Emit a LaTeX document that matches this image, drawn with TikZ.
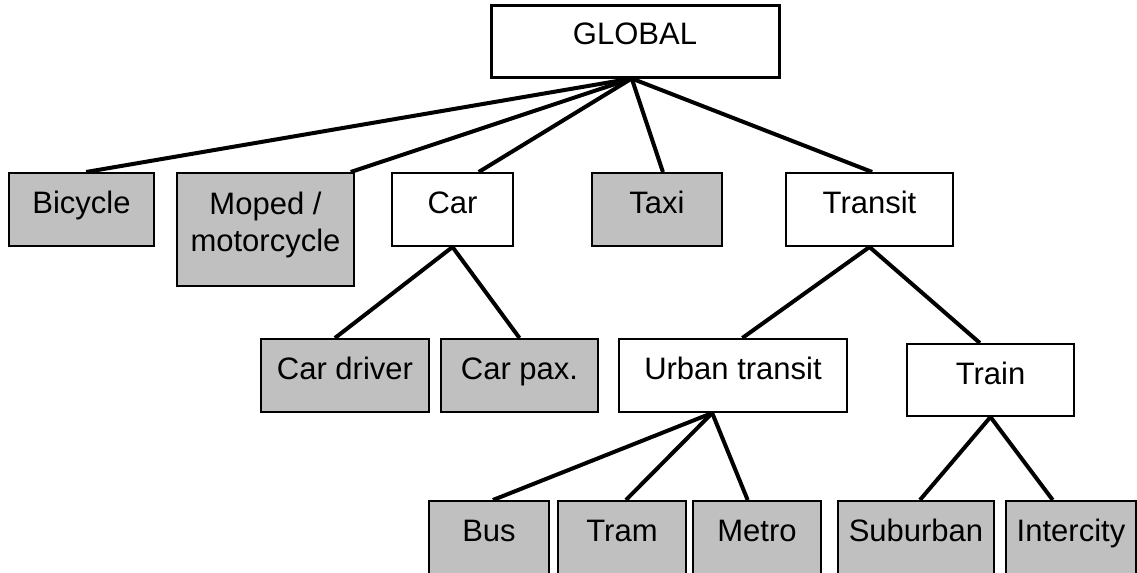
\documentclass[tikz,border=0pt]{standalone}
\usepackage{fontspec}
\setmainfont{Liberation Sans}
\usepackage{xcolor}
\usepackage{tikz}
\usetikzlibrary{positioning}
\definecolor{leafgray}{HTML}{C0C0C0}

\begin{document}
\begin{tikzpicture}[x=0.5pt, y=-0.5pt,
	box/.style={rectangle, draw, line width=1pt, inner sep=0, minimum height=36.5pt,
		font=\fontsize{15.5}{18.5}\selectfont, align=center},
	lbl/.style={text height=11pt, text depth=7pt},
	leaf/.style={box, fill=leafgray},
	conn/.style={draw, line width=2pt}]
\useasboundingbox (0,0) rectangle (1137,573);
% top level
\node[box, lbl, line width=1.5pt, minimum width=144pt, minimum height=36pt] at(635,41) (global) {GLOBAL};
\node[leaf, lbl, minimum width=72.5pt] at(81.5,209.5) (bicycle) {Bicycle};
\node[leaf, text depth=8pt, minimum width=88.5pt, minimum height=56.5pt] at(265.5,229.5) (moped) {Moped /\\motorcycle};
\node[box, lbl, minimum width=60.5pt] at(452.5,209.5) (car) {Car};
\node[leaf, lbl, minimum width=65pt] at(657,209.5) (taxi) {Taxi};
\node[box, lbl, minimum width=83.5pt] at(869.5,209.5) (transit) {Transit};
% second level
\node[leaf, lbl, minimum width=84pt] at(345,375.5) (cardriver) {Car driver};
\node[leaf, lbl, minimum width=78.5pt] at(519.5,375.5) (carpax) {Car pax.};
\node[box, lbl, minimum width=114pt] at(733,375.5) (urban) {Urban transit};
\node[box, lbl, minimum width=83.5pt, minimum height=36pt] at(990.5,380) (train) {Train};
% third level
\foreach \x/\w/\n/\t in {489/60/bus/Bus, 622/64/tram/Tram, 757/64/metro/Metro,
	916/78/suburban/Suburban, 1071/65/intercity/Intercity} {
	\node[leaf, lbl, minimum width=\w pt] at(\x,537.5) (\n) {\t};
};
\path[conn]
	(global.265) edge (bicycle.83)
	(global.265) edge (moped.34)
	(global.265) edge (car.55)
	(global.265) edge (taxi.81)
	(global.265) edge (transit.86)
	(car.south) edge (cardriver.105)
	(car.south) edge (carpax.north)
	(transit.south) edge (urban.76)
	(transit.south) edge (train.106)
	(urban.241) edge (bus.84)
	(urban.241) edge (tram.84)
	(urban.241) edge (metro.104)
	(train.south) edge (suburban.84)
	(train.south) edge (intercity.116);
\end{tikzpicture}
\end{document}
